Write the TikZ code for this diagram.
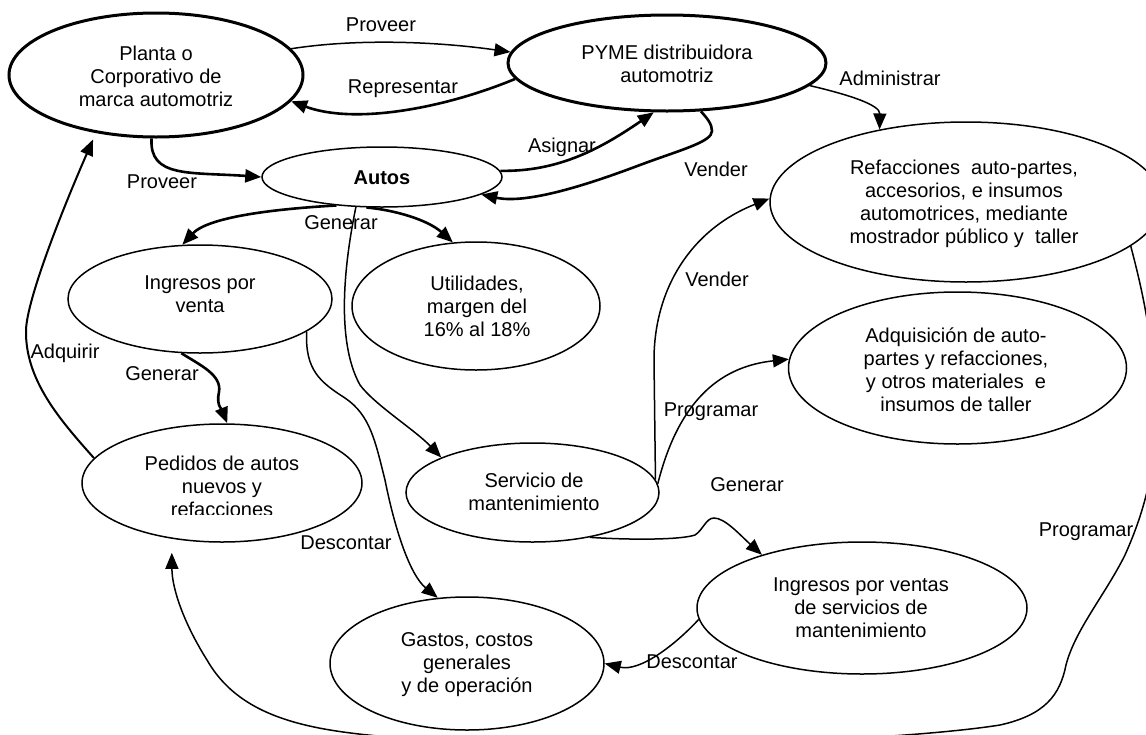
\documentclass[tikz,border=0pt]{standalone}
\usepackage{fontspec}
\setmainfont{Liberation Sans}
\usetikzlibrary{arrows.meta,shapes.geometric}
\newcommand\dfont{\fontsize{20}{23}\selectfont}
\begin{document}
\begin{tikzpicture}[x=1pt,y=-1pt,
  ell/.style={draw, ellipse, inner sep=0pt, line width=1.5pt},
  ellthick/.style={ell, line width=3pt},
  txt/.style={font=\dfont, align=center, inner sep=0pt},
  lbl/.style={font=\dfont, inner sep=0pt, text height=16.1pt, text depth=6.9pt},
  conn/.style={line width=1.5pt, -{Triangle[length=16pt,width=13pt]}},
  connmid/.style={conn, line width=2pt},
  connthick/.style={conn, line width=2.6pt},
]
\useasboundingbox (0,0) rectangle (1146,734);
\clip (0,0) rectangle (1146,734);
\fill[white] (0,0) rectangle (1146,734);

% ellipses
\node[ellthick, minimum width=294pt, minimum height=124pt] (planta) at (156,75) {};
\node[ellthick, minimum width=318pt, minimum height=96pt] (pyme) at (667,63) {};
\node[ell, minimum width=240pt, minimum height=60pt] (autos) at (382,177) {};
\node[ell, minimum width=392pt, minimum height=160pt] (refac) at (966,202) {};
\node[ell, minimum width=264pt, minimum height=108pt] (ingv) at (200,299) {};
\node[ell, minimum width=248pt, minimum height=128pt] (util) at (476,306) {};
\node[ell, minimum width=338pt, minimum height=152pt] (adq) at (957.5,368) {};
\node[ell, minimum width=280pt, minimum height=118pt] (pedidos) at (222,483) {};
\node[ell, minimum width=253pt, minimum height=99pt] (servicio) at (532.5,492.5) {};
\node[ell, minimum width=330pt, minimum height=132pt] (ingserv) at (862,608) {};
\node[ell, minimum width=274pt, minimum height=133pt] (gastos) at (467,663.5) {};

% texts
\node[txt] (planta-t) at (156,78.4) {\strut Planta o\\Corporativo de\\marca automotriz\strut};
\node[txt] (pyme-t) at (667,66) {\strut PYME distribuidora\\automotriz\strut};
\node[txt, font=\dfont\bfseries] (autos-t) at (382,179.4) {\strut Autos\strut};
\node[txt] (refac-t) at (964,204.4) {\strut Refacciones\ \ auto-partes,\\accesorios, e insumos\\automotrices, mediante\\mostrador público y\ \ taller\strut};
\node[txt] (ingv-t) at (200,296) {\strut Ingresos por\\venta\strut};
\node[txt] (util-t) at (477,309) {\strut Utilidades,\\margen del\\16\% al 18\%\strut};
\node[txt] (adq-t) at (956,372.4) {\strut Adquisición de auto-\\partes y refacciones,\\y otros materiales\ \ e\\insumos de taller\strut};
\begin{scope}
\clip (80,420) rectangle (370,514);
\node[txt] (pedidos-t) at (222,489) {\strut Pedidos de autos\\nuevos y\\refacciones\strut};
\end{scope}
\node[txt] (servicio-t) at (534,494.4) {\strut Servicio de\\mantenimiento\strut};
\node[txt] (ingserv-t) at (861,610) {\strut Ingresos por ventas\\de servicios de\\mantenimiento\strut};
\node[txt] (gastos-t) at (467,665) {\strut Gastos, costos\\generales\\y de operación\strut};

% labels
\node[lbl] (l-proveer1) at (381,26.5) {Proveer};
\node[lbl] (l-repr) at (403,88.5) {Representar};
\node[lbl] (l-asignar) at (562,147.5) {Asignar};
\node[lbl] (l-proveer2) at (162,183.5) {Proveer};
\node[lbl] (l-generar1) at (341,224.5) {Generar};
\node[lbl] (l-vender1) at (716,171.5) {Vender};
\node[lbl] (l-admin) at (890,80.5) {Administrar};
\node[lbl] (l-vender2) at (717,281.5) {Vender};
\node[lbl] (l-adquirir) at (65,353.5) {Adquirir};
\node[lbl] (l-generar2) at (162,375.5) {Generar};
\node[lbl] (l-descontar1) at (346,544.5) {Descontar};
\node[lbl] (l-programar1) at (711,411.5) {Programar};
\node[lbl] (l-generar3) at (747,486.5) {Generar};
\node[lbl] (l-programar2) at (1086,531.5) {Programar};
\node[lbl] (l-descontar2) at (692,663.5) {Descontar};

% connectors
\draw[conn] (planta.11) .. controls (360,38) and (440,42) .. (pyme.176);
\draw[connthick] (pyme.186) .. controls (445,108) and (355,125) .. (planta.349);
\draw[connthick] (planta.266) .. controls (149,178) and (190,172) .. (autos.west);
\draw[connthick] (autos.3) .. controls (560,172) and (603,147) .. (pyme.255);
\draw[connthick] (pyme.305) .. controls (707,118) and (712,124) .. (712,131)
  .. controls (712,142) and (680,150) .. (640,165)
  .. controls (600,180) and (530,205) .. (autos.350);
\draw[conn] (pyme.351) .. controls (850,95) and (880,105) .. (refac.140);
\draw[connthick] (autos.212) .. controls (290,208) and (210,215) .. (ingv.108);
\draw[connthick] (autos.243) .. controls (395,210) and (428,220) .. (util.110);
\draw[conn] (autos.229) .. controls (345,260) and (335,340) .. (360,385)
  .. controls (375,405) and (415,430) .. (servicio.159);
\draw[connthick] (ingv.251) .. controls (200,365) and (222,375) .. (219,392)
  .. controls (216,405) and (222,410) .. (pedidos.85);
\draw[conn] (ingv.-17) .. controls (305,370) and (320,382) .. (345,398)
  .. controls (370,415) and (375,440) .. (385,480)
  .. controls (395,530) and (410,575) .. (gastos.114);
\draw[connmid, shorten >=7pt] (pedidos.169) .. controls (60,420) and (25,380) .. (26,330)
  .. controls (27,300) and (60,215) .. (planta.224);
\draw[conn] (servicio.6) -- (654,360) .. controls (654,290) and (690,230) .. (refac.179);
\draw[conn] (servicio.4) .. controls (680,395) and (725,366) .. (adq.177);
\draw[conn] (servicio.-38) .. controls (630,540) and (680,540) .. (695,535)
  .. controls (703,530) and (706,518) .. (714,518)
  .. controls (725,518) and (740,535) .. (ingserv.152);
\draw[conn] (ingserv.184) .. controls (675,645) and (640,672) .. (gastos.east);
\draw[conn, shorten >=14pt] (refac.-15) .. controls (1145,300) and (1155,350) .. (1155,420)
  .. controls (1155,470) and (1145,510) .. (1125,555)
  .. controls (1105,595) and (1075,630) .. (1066,665)
  .. controls (1060,695) and (1045,715) .. (1000,725)
  .. controls (950,733) and (850,740) .. (760,742)
  .. controls (600,746) and (420,745) .. (330,730)
  .. controls (270,720) and (230,700) .. (207,660)
  .. controls (185,625) and (172,590) .. (pedidos.228);
\end{tikzpicture}
\end{document}
